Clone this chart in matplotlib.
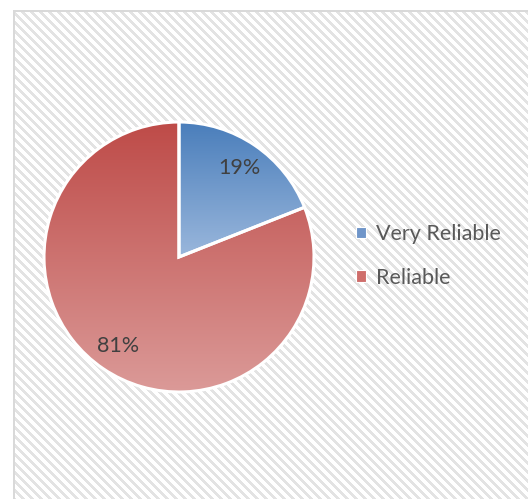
import numpy as np
import matplotlib
matplotlib.use("Agg")
import matplotlib.pyplot as plt
from matplotlib.patches import Patch
from matplotlib.colors import to_rgb

labels = ["Very Reliable", "Reliable"]
shares = [19, 81]
top_colors = ["#4a7ebb", "#be4b48"]
bottom_colors = ["#9ab7dc", "#db9a98"]
legend_colors = ["#6f95c9", "#cf6e6b"]

W, H = 528, 499
fig = plt.figure(figsize=(W / 100, H / 100), dpi=100)

# Diagonal pinstripe backdrop inside a thin gray frame
bg = fig.add_axes([0, 0, 1, 1])
yy, xx = np.mgrid[0:H, 0:W]
stripe = ((xx - yy) % 9) < 4
img = np.ones((H, W, 3))
img[stripe] = to_rgb("#e3e3e3")
img[(xx < 13) | (yy < 10)] = 1.0
frame = ((xx >= 13) & (xx <= 14) & (yy >= 10)) | ((yy >= 10) & (yy <= 11) & (xx >= 13))
img[frame] = to_rgb("#d9d9d9")
bg.imshow(img, extent=[0, W, H, 0], interpolation="nearest", aspect="auto")
bg.set_xlim(0, W)
bg.set_ylim(H, 0)
bg.axis("off")

# Pie axes: centre (179, 257) px, radius 135 px
cx, cy, r, half = 179, 257, 135, 150
ax = fig.add_axes([(cx - half) / W, (H - cy - half) / H, 2 * half / W, 2 * half / H])
lim = half / r
wedges, texts, autotexts = ax.pie(
    shares, startangle=90, counterclock=False, radius=1,
    autopct="%d%%", pctdistance=0.8,
    wedgeprops=dict(edgecolor="white", linewidth=2.2),
    textprops=dict(family="Lato", fontsize=15.5, color="#404040"),
)
ax.set_xlim(-lim, lim)
ax.set_ylim(-lim, lim)
ax.set_aspect("equal")
ax.axis("off")

# Vertical gradient fill for each slice, spanning the slice's own height
for w, c0, c1 in zip(wedges, top_colors, bottom_colors):
    path = w.get_path().transformed(w.get_patch_transform())
    ext = path.get_extents()
    t = np.linspace(0, 1, 256)[:, None]
    grad = (1 - t) * np.array(to_rgb(c0)) + t * np.array(to_rgb(c1))
    grad = np.repeat(grad[:, None, :], 2, axis=1)
    im = ax.imshow(grad, extent=[ext.x0, ext.x1, ext.y0, ext.y1], origin="upper",
                   aspect="auto", zorder=w.get_zorder() + 0.1, interpolation="bilinear")
    im.set_clip_path(w)
    w.set_facecolor("none")
    w.set_zorder(w.get_zorder() + 0.2)
for t_ in autotexts:
    t_.set_zorder(5)
ax.set_xlim(-lim, lim)
ax.set_ylim(-lim, lim)

handles = [Patch(facecolor=c, edgecolor="white", linewidth=0.8) for c in legend_colors]
fig.legend(handles, labels, loc="center left", bbox_to_anchor=(356 / W, 1 - 256 / H),
           frameon=False, handlelength=0.45, handleheight=0.45, handletextpad=0.5,
           borderpad=0, borderaxespad=0,
           labelspacing=1.1, prop=dict(family="Lato", size=15.5), labelcolor="#595959")

fig.savefig("out.png", dpi=100)
